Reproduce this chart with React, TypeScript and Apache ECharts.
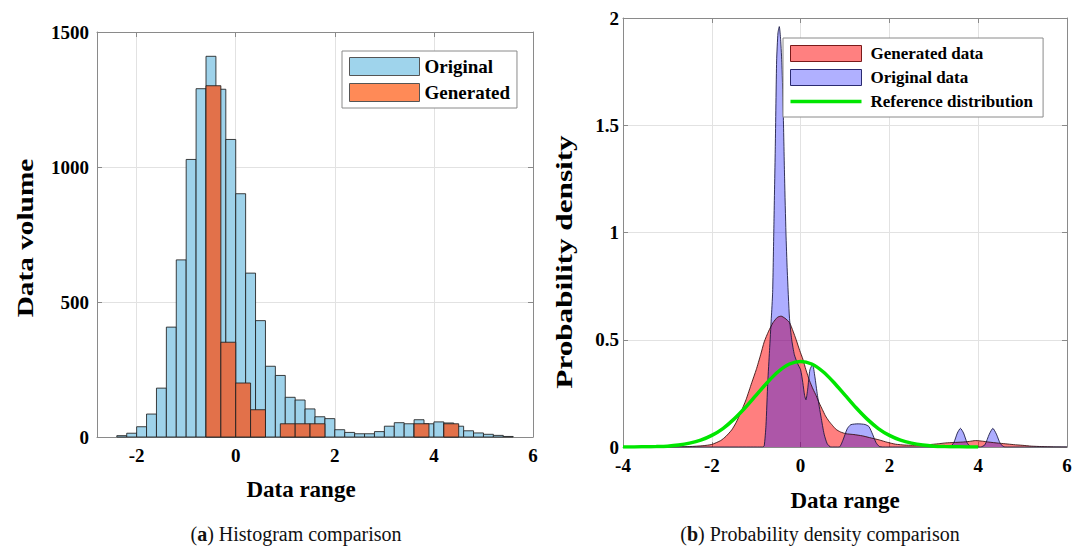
import React, { useEffect, useRef } from "react";
import * as echarts from "echarts";

// ---------- Histogram (a) ----------
const originalBinStart = -2.4;
const originalBinWidth = 0.2;
const originalCounts = [
  5, 14, 38, 85, 181, 407, 656, 1028, 1290, 1410, 1288, 1102, 901, 607, 431, 262,
  228, 147, 137, 104, 75, 68, 27, 17, 12, 12, 20, 40, 53, 49, 64, 49, 56, 52, 40,
  23, 15, 10, 6, 2,
];
const generatedBinStart = -0.6;
const generatedBinWidth = 0.3;
const generatedCounts = [1301, 351, 200, 101, 0, 49, 49, 49, 0, 0, 0, 0, 0, 0, 49, 0, 49];
const histXTicks = [-2, 0, 2, 4, 6];

// ---------- Density (b) ----------
const generatedX = [
  -4, -3, -2.5, -2.2, -2.0, -1.8, -1.68, -1.55, -1.45, -1.35, -1.23, -1.1, -1.0, -0.9,
  -0.82, -0.72, -0.62, -0.52, -0.44, -0.35, -0.25, -0.17, -0.1, -0.02, 0.05, 0.12, 0.2,
  0.28, 0.35, 0.42, 0.49, 0.56, 0.64, 0.72, 0.8, 0.9, 1.02, 1.2, 1.39, 1.55, 1.77, 1.95,
  2.14, 2.35, 2.52, 2.7, 2.89, 3.1, 3.27, 3.45, 3.64, 3.8, 3.94, 4.1, 4.24, 4.45, 4.61,
  4.8, 4.99, 5.2, 5.43, 5.7, 6,
];
const generatedY = [
  0, 0, 0.002, 0.006, 0.012, 0.03, 0.05, 0.08, 0.115, 0.16, 0.22, 0.3, 0.36, 0.43,
  0.49, 0.54, 0.58, 0.605, 0.61, 0.6, 0.58, 0.54, 0.5, 0.45, 0.41, 0.36, 0.31,
  0.27, 0.24, 0.205, 0.175, 0.145, 0.12, 0.1, 0.082, 0.07, 0.062, 0.058, 0.052, 0.044, 0.033, 0.022,
  0.013, 0.009, 0.008, 0.009, 0.011, 0.015, 0.019, 0.021, 0.023, 0.026, 0.03, 0.027, 0.023, 0.018, 0.015,
  0.011, 0.008, 0.004, 0.002, 0.0005, 0,
];
const originalX = [
  -4, -1, -0.86, -0.82, -0.78, -0.74, -0.7, -0.66, -0.63, -0.6, -0.57, -0.54, -0.51,
  -0.48, -0.45, -0.42, -0.39, -0.36, -0.33, -0.3, -0.25, -0.2, -0.14, -0.07, 0, 0.05,
  0.09, 0.12, 0.16, 0.21, 0.27, 0.32, 0.38, 0.46, 0.53, 0.6, 0.68, 0.87, 0.95, 1.05,
  1.13, 1.3, 1.45, 1.54, 1.62, 1.7, 1.77, 1.85, 3.35, 3.45, 3.53, 3.6, 3.67, 3.75, 3.83,
  4.05, 4.15, 4.25, 4.33, 4.41, 4.5, 4.6, 6,
];
const originalY = [
  0, 0, 0, 0.005, 0.1, 0.3, 0.45, 0.6, 0.72, 1.05, 1.4, 1.8, 1.93,
  1.96, 1.9, 1.78, 1.55, 1.25, 1.0, 0.82, 0.6, 0.5, 0.43, 0.39, 0.36, 0.3,
  0.24, 0.22, 0.27, 0.36, 0.385, 0.33, 0.24, 0.14, 0.06, 0.015, 0, 0, 0.03, 0.085,
  0.104, 0.108, 0.105, 0.095, 0.06, 0.02, 0.003, 0, 0, 0.02, 0.065, 0.087, 0.065, 0.02, 0.002,
  0, 0.01, 0.06, 0.087, 0.06, 0.015, 0, 0,
];
const referenceX = [
  -4, -3.75, -3.5, -3.25, -3, -2.75, -2.5, -2.25, -2, -1.75, -1.5, -1.25, -1, -0.75, -0.5,
  -0.25, 0, 0.25, 0.5, 0.75, 1, 1.25, 1.5, 1.75, 2, 2.25, 2.5, 2.75, 3, 3.25, 3.5, 3.75, 4,
];
const referenceY = [
  0, 0, 0.001, 0.002, 0.004, 0.009, 0.018, 0.032, 0.054, 0.086, 0.13, 0.183, 0.242, 0.301, 0.352,
  0.387, 0.399, 0.387, 0.352, 0.301, 0.242, 0.183, 0.13, 0.086, 0.054, 0.032, 0.018, 0.009, 0.004, 0.002, 0.001, 0, 0,
];

const FONT = '"Liberation Serif", "Times New Roman", serif';
const AXIS_GRAY = "#8a8a8a";
const GRID_GRAY = "#e2e2e2";
const LINE_ICON = "path://M0,0L0.01,0L0,0.01ZM71,16L70.99,16L71,15.99ZM0,6.2L71,6.2L71,9.8L0,9.8Z";

function binsOf(start: number, width: number, counts: number[]) {
  const out: number[][] = [];
  counts.forEach((c, i) => {
    if (c > 0) {
      const x0 = +(start + i * width).toFixed(4);
      out.push([x0, +(x0 + width).toFixed(4), c]);
    }
  });
  return out;
}

function pairs(xs: number[], ys: number[]) {
  return xs.map((x, i) => [x, ys[i]]);
}

function histRender(fill: string) {
  return (params: any, api: any) => {
    const p0 = api.coord([api.value(0), api.value(2)]);
    const p1 = api.coord([api.value(1), 0]);
    return {
      type: "rect",
      shape: { x: p0[0], y: p0[1], width: p1[0] - p0[0], height: p1[1] - p0[1] },
      style: { fill, stroke: "rgba(30,30,30,0.85)", lineWidth: 1 },
    };
  };
}

const tickLabel = {
  fontFamily: FONT,
  fontWeight: "bold" as const,
  fontSize: 19,
  color: "#000",
  formatter: (v: number) => String(v),
};

function mainX(grid: number, min: number, max: number, extra: any) {
  return {
    gridIndex: grid,
    type: "value",
    min,
    max,
    position: "bottom",
    axisLine: { show: true, onZero: false, lineStyle: { color: AXIS_GRAY } },
    axisTick: { show: true, inside: true, length: 5, lineStyle: { color: AXIS_GRAY }, ...(extra.tick || {}) },
    axisLabel: { ...tickLabel, margin: 9, ...(extra.label || {}) },
    splitLine: { show: true, lineStyle: { color: GRID_GRAY } },
    ...(extra.axis || {}),
  };
}
function mirrorX(grid: number, min: number, max: number, extra: any) {
  return {
    gridIndex: grid,
    type: "value",
    min,
    max,
    position: "top",
    axisLine: { show: true, onZero: false, lineStyle: { color: AXIS_GRAY } },
    axisTick: { show: true, inside: true, length: 5, lineStyle: { color: AXIS_GRAY }, ...(extra.tick || {}) },
    axisLabel: { show: false },
    splitLine: { show: false },
    ...(extra.axis || {}),
  };
}
function mainY(grid: number, min: number, max: number, interval: number, margin: number) {
  return {
    gridIndex: grid,
    type: "value",
    min,
    max,
    interval,
    position: "left",
    axisLine: { show: true, onZero: false, lineStyle: { color: AXIS_GRAY } },
    axisTick: { show: true, inside: true, length: 5, lineStyle: { color: AXIS_GRAY } },
    axisLabel: { ...tickLabel, margin },
    splitLine: { show: true, lineStyle: { color: GRID_GRAY } },
  };
}
function mirrorY(grid: number, min: number, max: number, interval: number) {
  return {
    gridIndex: grid,
    type: "value",
    min,
    max,
    interval,
    position: "right",
    axisLine: { show: true, onZero: false, lineStyle: { color: AXIS_GRAY } },
    axisTick: { show: true, inside: true, length: 5, lineStyle: { color: AXIS_GRAY } },
    axisLabel: { show: false },
    splitLine: { show: false },
  };
}

export default function App() {
  const ref = useRef<HTMLDivElement>(null);
  useEffect(() => {
    if (!ref.current) return;
    const chart = echarts.init(ref.current, undefined, { renderer: "svg" });
    const option: any = {
      animation: false,
      backgroundColor: "#fff",
      grid: [
        { left: 97, top: 32, width: 436, height: 405, show: false },
        { left: 623, top: 18, width: 444, height: 429, show: false },
      ],
      xAxis: [
        mainX(0, -2.8, 6, {
          tick: { customValues: histXTicks },
          label: { customValues: histXTicks },
        }),
        mirrorX(0, -2.8, 6, { tick: { customValues: histXTicks } }),
        mainX(1, -4, 6, { axis: { interval: 2 } }),
        mirrorX(1, -4, 6, { axis: { interval: 2 } }),
      ],
      yAxis: [
        mainY(0, 0, 1500, 500, 8),
        mirrorY(0, 0, 1500, 500),
        mainY(1, 0, 2, 0.5, 4),
        mirrorY(1, 0, 2, 0.5),
      ],
      legend: [
        {
          orient: "vertical",
          left: 342,
          top: 51,
          itemWidth: 70,
          itemHeight: 18,
          itemGap: 7,
          padding: [6, 7, 6, 7],
          backgroundColor: "#fff",
          borderColor: AXIS_GRAY,
          borderWidth: 1,
          selectedMode: false,
          textStyle: { fontFamily: FONT, fontWeight: "bold", fontSize: 19, color: "#000" },
          data: [
            { name: "Original", icon: "rect", itemStyle: { color: "#9fd4ec", borderColor: "#555", borderWidth: 1 } },
            { name: "Generated", icon: "rect", itemStyle: { color: "#ff8a57", borderColor: "#555", borderWidth: 1 } },
          ],
        },
        {
          orient: "vertical",
          left: 783,
          top: 38,
          itemWidth: 71,
          itemHeight: 16,
          itemGap: 7,
          padding: [7, 10, 7, 7],
          backgroundColor: "#fff",
          borderColor: AXIS_GRAY,
          borderWidth: 1,
          selectedMode: false,
          textStyle: { fontFamily: FONT, fontWeight: "bold", fontSize: 17, color: "#000", padding: [0, 0, 0, 4] },
          data: [
            { name: "Generated data", icon: "rect", itemStyle: { color: "#ff8080", borderColor: "#7a1a1a", borderWidth: 1 } },
            { name: "Original data", icon: "rect", itemStyle: { color: "#b0b0ff", borderColor: "#2a2a70", borderWidth: 1 } },
            { name: "Reference distribution", icon: LINE_ICON, itemStyle: { color: "#00e600", borderWidth: 0 } },
          ],
        },
      ],
      series: [
        {
          name: "Original",
          type: "custom",
          xAxisIndex: 0,
          yAxisIndex: 0,
          itemStyle: { color: "#9fd4ec" },
          renderItem: histRender("#9ed2ea"),
          encode: { x: [0, 1], y: 2 },
          data: binsOf(originalBinStart, originalBinWidth, originalCounts),
        },
        {
          name: "Generated",
          type: "custom",
          xAxisIndex: 0,
          yAxisIndex: 0,
          itemStyle: { color: "#ff8a57" },
          renderItem: histRender("#e2714a"),
          encode: { x: [0, 1], y: 2 },
          data: binsOf(generatedBinStart, generatedBinWidth, generatedCounts),
        },
        {
          name: "Generated data",
          type: "line",
          xAxisIndex: 2,
          yAxisIndex: 2,
          symbol: "none",
          smooth: 0.2,
          itemStyle: { color: "#ff8080" },
          lineStyle: { color: "rgba(50,10,10,0.85)", width: 1 },
          areaStyle: { color: "rgba(255,0,0,0.5)", opacity: 1 },
          data: pairs(generatedX, generatedY),
        },
        {
          name: "Original data",
          type: "line",
          xAxisIndex: 2,
          yAxisIndex: 2,
          symbol: "none",
          smooth: 0.2,
          itemStyle: { color: "#b0b0ff" },
          lineStyle: { color: "rgba(20,20,60,0.85)", width: 1 },
          areaStyle: { color: "rgba(0,0,255,0.32)", opacity: 1 },
          data: pairs(originalX, originalY),
        },
        {
          name: "Reference distribution",
          type: "line",
          xAxisIndex: 2,
          yAxisIndex: 2,
          symbol: "none",
          smooth: 0.3,
          itemStyle: { color: "#00e600" },
          lineStyle: { color: "#00e600", width: 3.5 },
          data: pairs(referenceX, referenceY),
        },
      ],
      graphic: [
        {
          type: "text",
          x: 25,
          y: 238,
          rotation: Math.PI / 2,
          scaleX: 1.22,
          style: {
            text: "Data volume",
            font: `bold 24px ${FONT}`,
            fill: "#000",
            textAlign: "center",
            textVerticalAlign: "middle",
          },
        },
        {
          type: "text",
          x: 301,
          y: 489,
          style: {
            text: "Data range",
            font: `bold 23px ${FONT}`,
            fill: "#000",
            textAlign: "center",
            textVerticalAlign: "middle",
          },
        },
        {
          type: "text",
          x: 564,
          y: 262,
          rotation: Math.PI / 2,
          scaleX: 1.3,
          style: {
            text: "Probability density",
            font: `bold 24px ${FONT}`,
            fill: "#000",
            textAlign: "center",
            textVerticalAlign: "middle",
          },
        },
        {
          type: "text",
          x: 845,
          y: 500,
          style: {
            text: "Data range",
            font: `bold 23px ${FONT}`,
            fill: "#000",
            textAlign: "center",
            textVerticalAlign: "middle",
          },
        },
        {
          type: "text",
          x: 296,
          y: 534,
          style: {
            text: "({b|a}) Histogram comparison",
            font: `20px ${FONT}`,
            fill: "#111",
            textAlign: "center",
            textVerticalAlign: "middle",
            rich: { b: { font: `bold 20px ${FONT}`, fill: "#111" } },
          },
        },
        {
          type: "text",
          x: 820,
          y: 534,
          style: {
            text: "({b|b}) Probability density comparison",
            font: `20px ${FONT}`,
            fill: "#111",
            textAlign: "center",
            textVerticalAlign: "middle",
            rich: { b: { font: `bold 20px ${FONT}`, fill: "#111" } },
          },
        },
      ],
    };
    chart.setOption(option);
    return () => chart.dispose();
  }, []);
  return (
    <div
      ref={ref}
      style={{ position: "absolute", left: 0, top: 0, width: 1075, height: 548 }}
    />
  );
}
